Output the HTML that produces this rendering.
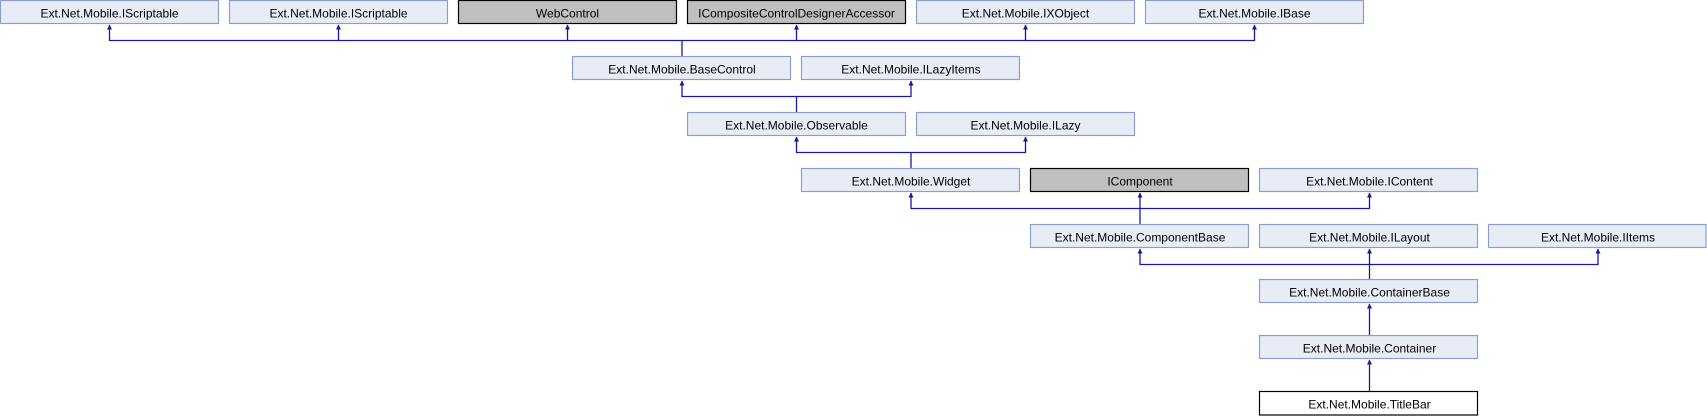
<!DOCTYPE html>
<html><head><meta charset="utf-8"><style>
html,body{margin:0;padding:0;background:#fff;}
svg{display:block;}
text{font-family:"Liberation Sans",sans-serif;font-size:12px;fill:#000;}
</style></head><body>
<svg width="1707" height="416" viewBox="0 0 1707 416" xmlns="http://www.w3.org/2000/svg">
<defs>
<g id="arr"><path d="M-2.5,5 L0,0 L2.5,5 Z" fill="#1a1a8f"/></g>
</defs>
<g fill="none" stroke="#1a1aa0" stroke-width="1.3">
<path d="M109.5,25 V40.5 H1254.5 V25"/>
<path d="M338.5,25 V40.5 M567.5,25 V40.5 M796.5,25 V40.5 M1025.5,25 V40.5"/>
<path d="M682,40.5 V56"/>
<path d="M682,81 V96.5 H911 V81"/>
<path d="M796.5,96.5 V112"/>
<path d="M796.5,137 V152.5 H1025.5 V137"/>
<path d="M911,152.5 V168"/>
<path d="M911,193 V208.5 H1369.5 V193"/>
<path d="M1140,193 V224"/>
<path d="M1140,249 V264.5 H1598 V249"/>
<path d="M1369.5,249 V279"/>
<path d="M1369.5,304 V335"/>
<path d="M1369.5,360 V391"/>
</g>
<g>
<use href="#arr" x="109.5" y="24.5"/><use href="#arr" x="338.5" y="24.5"/><use href="#arr" x="567.5" y="24.5"/>
<use href="#arr" x="796.5" y="24.5"/><use href="#arr" x="1025.5" y="24.5"/><use href="#arr" x="1254.5" y="24.5"/>
<use href="#arr" x="682" y="80.5"/><use href="#arr" x="911" y="80.5"/>
<use href="#arr" x="796.5" y="136.5"/><use href="#arr" x="1025.5" y="136.5"/>
<use href="#arr" x="911" y="192.5"/><use href="#arr" x="1140" y="192.5"/><use href="#arr" x="1369.5" y="192.5"/>
<use href="#arr" x="1140" y="248.5"/><use href="#arr" x="1369.5" y="248.5"/><use href="#arr" x="1598" y="248.5"/>
<use href="#arr" x="1369.5" y="303.5"/><use href="#arr" x="1369.5" y="359.5"/>
</g>
<g stroke-width="1.2">
<g fill="#e8ecf5" stroke="#8aa0cc">
<rect x="0.5" y="0.5" width="218" height="23"/>
<rect x="229.5" y="0.5" width="218" height="23"/>
<rect x="916.5" y="0.5" width="218" height="23"/>
<rect x="1145.5" y="0.5" width="218" height="23"/>
<rect x="572.5" y="56.5" width="218" height="23"/>
<rect x="801.5" y="56.5" width="218" height="23"/>
<rect x="687.5" y="112.5" width="218" height="23"/>
<rect x="916.5" y="112.5" width="218" height="23"/>
<rect x="801.5" y="168.5" width="218" height="23"/>
<rect x="1259.5" y="168.5" width="218" height="23"/>
<rect x="1030.5" y="224.5" width="218" height="23"/>
<rect x="1259.5" y="224.5" width="218" height="23"/>
<rect x="1488.5" y="224.5" width="217.5" height="23"/>
<rect x="1259.5" y="279.5" width="218" height="23"/>
<rect x="1259.5" y="335.5" width="218" height="23"/>
</g>
<g fill="#bfbfbf" stroke="#000">
<rect x="458.5" y="0.5" width="218" height="23"/>
<rect x="687.5" y="0.5" width="218" height="23"/>
<rect x="1030.5" y="168.5" width="218" height="23"/>
</g>
<rect x="1259.5" y="391.5" width="218" height="23.5" fill="#fff" stroke="#000"/>
</g>
<g text-anchor="middle">
<text x="109.5" y="17.5">Ext.Net.Mobile.IScriptable</text>
<text x="338.5" y="17.5">Ext.Net.Mobile.IScriptable</text>
<text x="567.5" y="17.5">WebControl</text>
<text x="796.5" y="17.5">ICompositeControlDesignerAccessor</text>
<text x="1025.5" y="17.5">Ext.Net.Mobile.IXObject</text>
<text x="1254.5" y="17.5">Ext.Net.Mobile.IBase</text>
<text x="682" y="73.5">Ext.Net.Mobile.BaseControl</text>
<text x="911" y="73.5">Ext.Net.Mobile.ILazyItems</text>
<text x="796.5" y="129.5">Ext.Net.Mobile.Observable</text>
<text x="1025.5" y="129.5">Ext.Net.Mobile.ILazy</text>
<text x="911" y="185.5">Ext.Net.Mobile.Widget</text>
<text x="1140" y="185.5">IComponent</text>
<text x="1369.5" y="185.5">Ext.Net.Mobile.IContent</text>
<text x="1140" y="241.5">Ext.Net.Mobile.ComponentBase</text>
<text x="1369.5" y="241.5">Ext.Net.Mobile.ILayout</text>
<text x="1598" y="241.5">Ext.Net.Mobile.IItems</text>
<text x="1369.5" y="296.5">Ext.Net.Mobile.ContainerBase</text>
<text x="1369.5" y="352.5">Ext.Net.Mobile.Container</text>
<text x="1369.5" y="408.5">Ext.Net.Mobile.TitleBar</text>
</g>
</svg>
</body></html>
